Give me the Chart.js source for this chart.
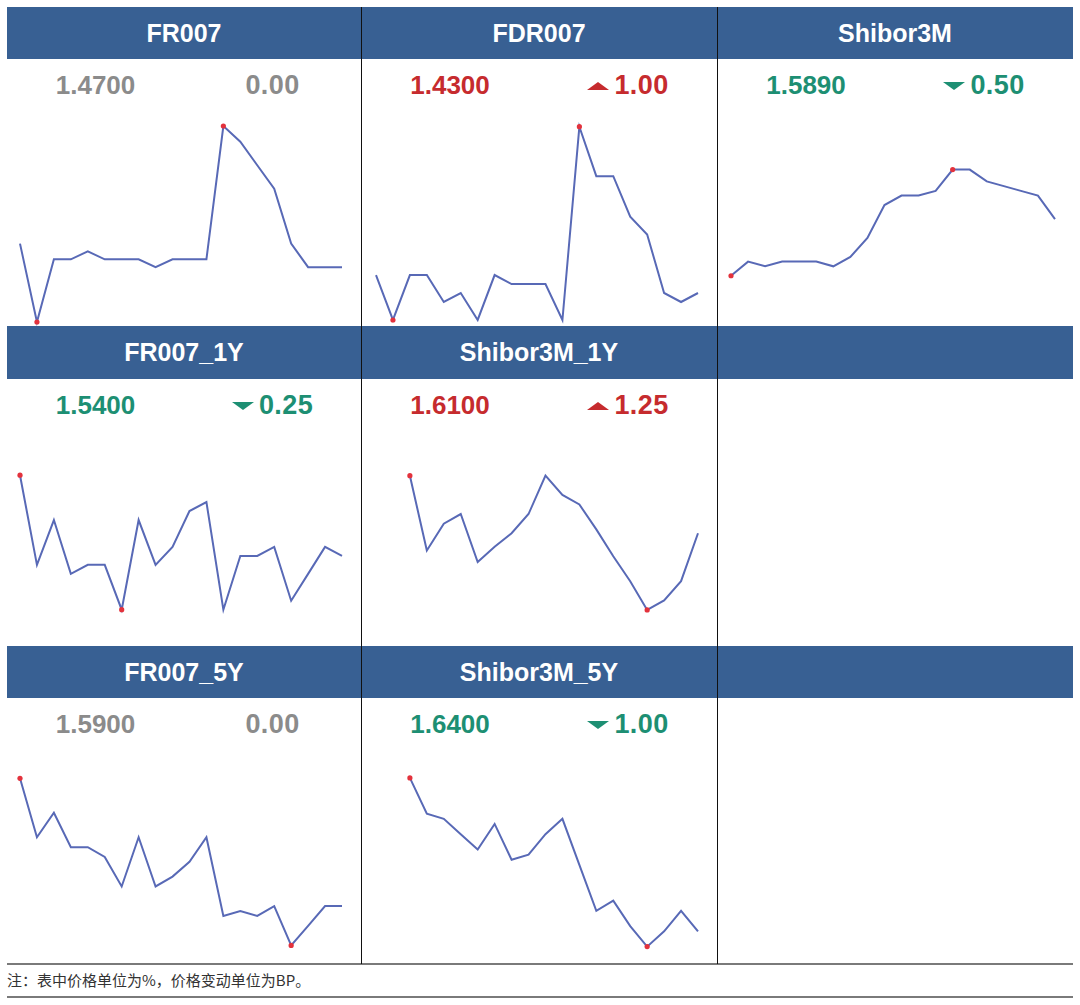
<!DOCTYPE html>
<html>
<head>
<meta charset="utf-8">
<script src="https://cdn.jsdelivr.net/npm/chart.js@4.4.0/dist/chart.umd.min.js"></script>
<style>
  html, body { margin: 0; padding: 0; background: #fff; }
  body { width: 1080px; height: 1005px; position: relative; overflow: hidden;
         font-family: "Liberation Sans", Arial, sans-serif; }
  .head { position: absolute; background: #386093; color: #fff; font-weight: bold;
          font-size: 25px; text-align: center; line-height: 52px; }
  .quote { position: absolute; height: 52px; line-height: 52px; font-size: 26px;
           font-weight: bold; text-align: center; }
  .quote.chg { font-size: 27px; letter-spacing: 0.4px; }
  .tri { display: inline-block; width: 0; height: 0; margin-right: 5px;
         border-left: 11px solid transparent; border-right: 11px solid transparent;
         vertical-align: 4px; }
  .tri.up { border-bottom: 8px solid #c62b2e; }
  .tri.down { border-top: 8px solid #1d8f73; }
  .spark { position: absolute; }
  .vline { position: absolute; width: 1px; background: #111; z-index: 5; }
  .hline { position: absolute; left: 7px; width: 1066px; height: 2px; background: #7a7a7a; }
  .note { position: absolute; left: 7px; top: 970px; font-size: 15px; color: #333;
          font-family: "Noto Sans CJK SC", sans-serif; line-height: 20px; }
</style>
</head>
<body>
<div class="note">注：表中价格单位为%，价格变动单位为BP。</div>
<script>
// ===== DATA =====
const labels = ['1','2','3','4','5','6','7','8','9','10','11','12','13','14','15','16','17','18','19','20'];

const names = ['FR007', 'FDR007', 'Shibor3M', 'FR007_1Y', 'Shibor3M_1Y', 'FR007_5Y', 'Shibor3M_5Y'];
const lastPrice = ['1.4700', '1.4300', '1.5890', '1.5400', '1.6100', '1.5900', '1.6400'];
const changeBP = [0.00, 1.00, -0.50, -0.25, 1.25, 0.00, -1.00];

const fr007 = [1.50, 1.40, 1.48, 1.48, 1.49, 1.48, 1.48, 1.48, 1.47, 1.48,
               1.48, 1.48, 1.65, 1.63, 1.60, 1.57, 1.50, 1.47, 1.47, 1.47];
const fdr007 = [1.45, 1.40, 1.45, 1.45, 1.42, 1.43, 1.40, 1.45, 1.44, 1.44,
                1.44, 1.40, 1.615, 1.56, 1.56, 1.515, 1.495, 1.43, 1.42, 1.43];
const shibor3m = [1.5770, 1.5800, 1.5790, 1.5800, 1.5800, 1.5800, 1.5790, 1.5810, 1.5850, 1.5920,
                  1.5940, 1.5940, 1.5950, 1.5995, 1.5995, 1.5970, 1.5960, 1.5950, 1.5940, 1.5890];
const fr007_1y = [1.5625, 1.5375, 1.5500, 1.5350, 1.5375, 1.5375, 1.5250, 1.5500, 1.5375, 1.5425,
                  1.5525, 1.5550, 1.5250, 1.5400, 1.5400, 1.5425, 1.5275, 1.5350, 1.5425, 1.5400];
// the 1Y / 5Y Shibor swaps only have the last 18 days
const shibor3m_1y = [1.6250, 1.6055, 1.6125, 1.6150, 1.6025, 1.6065, 1.6100, 1.6150, 1.6250,
                     1.6200, 1.6175, 1.6110, 1.6040, 1.5975, 1.5900, 1.5925, 1.5975, 1.6100];
const fr007_5y = [1.6550, 1.6250, 1.6375, 1.6200, 1.6200, 1.6150, 1.6000, 1.6250, 1.6000, 1.6050,
                  1.6125, 1.6250, 1.5850, 1.5875, 1.5850, 1.5900, 1.5700, 1.5800, 1.5900, 1.5900];
const shibor3m_5y = [1.7150, 1.6975, 1.6950, 1.6875, 1.6800, 1.6925, 1.6750, 1.6775, 1.6875,
                     1.6950, 1.6725, 1.6500, 1.6550, 1.6425, 1.6325, 1.6400, 1.6500, 1.6400];

const series = [fr007, fdr007, shibor3m, fr007_1y, shibor3m_1y, fr007_5y, shibor3m_5y];

// hidden value-axis bounds for each sparkline
const axisMin = [1.3949, 1.3933, 1.5672, 1.5160, 1.5806, 1.5626, 1.6240];
const axisMax = [1.7355, 1.6903, 1.6221, 1.5882, 1.6502, 1.6938, 1.7541];

// ===== LAYOUT =====
const COL_X = [7, 361, 717];
const COL_W = [354, 356, 356];
const PAD_L = [13, 15, 14];
const PAD_R = [19, 19, 18];
const ROW_Y = [7, 326, 646];
const HEAD_H = [52, 53, 52];
const BODY_BOTTOM = [326, 646, 964];
const SLOTS = [[0, 1, 2], [3, 4, null], [5, 6, null]];

const GRAY = '#8b8b8b', RED = '#c62b2e', GREEN = '#1d8f73';
const LINE = '#5869b6', DOT = '#e3323c';

function el(cls, css, html) {
  const d = document.createElement('div');
  d.className = cls;
  Object.assign(d.style, css);
  if (html != null) d.innerHTML = html;
  document.body.appendChild(d);
  return d;
}

function firstIndexOf(arr, fn) {
  const v = fn(...arr.filter(x => x != null));
  return arr.indexOf(v);
}

function drawPanel(k, row, col) {
  const x = COL_X[col], w = COL_W[col];
  const top = ROW_Y[row] + HEAD_H[row];
  const h = BODY_BOTTOM[row] - top;

  // price + change
  const chg = changeBP[k];
  const color = chg > 0 ? RED : chg < 0 ? GREEN : GRAY;
  el('quote', { left: x + 'px', top: top + 'px', width: w / 2 + 'px', color }, lastPrice[k]);
  const tri = chg > 0 ? '<span class="tri up"></span>' : chg < 0 ? '<span class="tri down"></span>' : '';
  el('quote chg', { left: x + w / 2 + 'px', top: top + 'px', width: w / 2 + 'px', color },
     tri + Math.abs(chg).toFixed(2));

  // sparkline
  const box = el('spark', { left: x + 'px', top: top + 'px', width: w + 'px', height: h + 'px' });
  const cv = document.createElement('canvas');
  cv.width = w; cv.height = h;
  box.appendChild(cv);

  const vals = series[k];
  const data = Array(labels.length - vals.length).fill(null).concat(vals);
  const hi = firstIndexOf(data, Math.max);
  const lo = firstIndexOf(data, Math.min);

  new Chart(cv, {
    type: 'line',
    data: {
      labels,
      datasets: [{
        data,
        borderColor: LINE,
        borderWidth: 2,
        tension: 0,
        pointRadius: data.map((_, i) => (i === hi || i === lo) ? 2.6 : 0),
        pointBackgroundColor: DOT,
        pointBorderWidth: 0,
      }]
    },
    options: {
      responsive: false,
      animation: false,
      layout: { padding: { left: PAD_L[col], right: PAD_R[col], top: 0, bottom: 0 } },
      plugins: { legend: { display: false }, tooltip: { enabled: false } },
      scales: {
        x: { display: false },
        y: { display: false, min: axisMin[k], max: axisMax[k] }
      }
    }
  });
}

// headers
SLOTS.forEach((slots, r) => {
  slots.forEach((k, c) => {
    el('head', { left: COL_X[c] + 'px', top: ROW_Y[r] + 'px', width: COL_W[c] + 'px',
                 height: HEAD_H[r] + 'px', lineHeight: HEAD_H[r] + 'px' },
       k == null ? '' : names[k]);
    if (k != null) drawPanel(k, r, c);
  });
});

// grid lines
[361, 717].forEach(x => el('vline', { left: x + 'px', top: '7px', height: '957px' }));
el('hline', { top: '963px' });
el('hline', { top: '996px' });
</script>
</body>
</html>
